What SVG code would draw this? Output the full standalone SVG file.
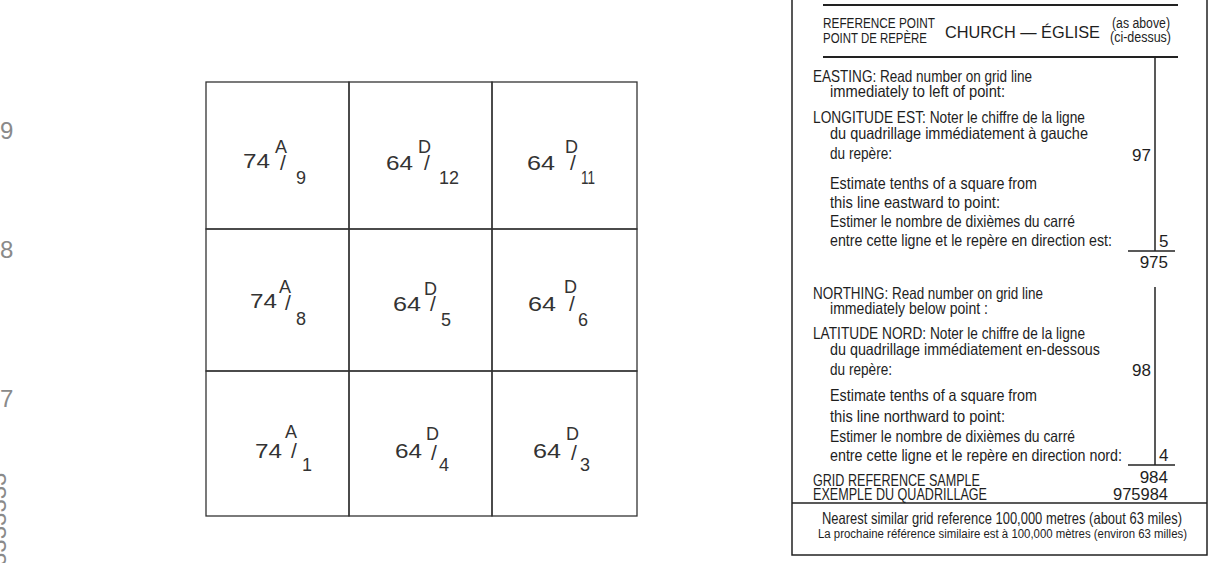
<svg xmlns="http://www.w3.org/2000/svg" width="1216" height="563" viewBox="0 0 1216 563">
<style>
.bg{fill:#ffffff}
.cell{fill:none;stroke:#333;stroke-width:1.3}
.lab{font-family:"Liberation Sans",Arial,sans-serif;fill:#333;font-size:20px}
.sup{font-family:"Liberation Sans",Arial,sans-serif;fill:#333;font-size:18px}
.sl{font-family:"Liberation Sans",Arial,sans-serif;fill:#333;font-size:21px}
.edge{font-family:"Liberation Sans",Arial,sans-serif;fill:#8a8a8a;font-size:24px}
.t{font-family:"Liberation Sans Narrow","Liberation Sans",Arial,sans-serif;fill:#1e1e1e;font-size:16.5px}
.h{font-family:"Liberation Sans Narrow","Liberation Sans",Arial,sans-serif;fill:#1e1e1e;font-size:15.5px}
.w{font-family:"Liberation Sans",Arial,sans-serif;fill:#1e1e1e;font-size:17px}
.n{font-family:"Liberation Sans",Arial,sans-serif;fill:#1e1e1e;font-size:17px}
.sm{font-family:"Liberation Sans Narrow","Liberation Sans",Arial,sans-serif;fill:#1e1e1e;font-size:12.5px}
.rule{stroke:#222;stroke-width:2;fill:none}
.ln{stroke:#222;stroke-width:1.5;fill:none}
</style>
<rect class="bg" x="0" y="0" width="1216" height="563"/>

<g id="edge-labels">
<text class="edge" x="0" y="139">9</text>
<text class="edge" x="0" y="258">8</text>
<text class="edge" x="0" y="407">7</text>
<text class="edge" font-size="20" fill="#9a9a9a" transform="translate(6,566) rotate(-90)">3333333</text>
</g>

<g id="grid">
<g id="cell-74A9">
<rect class="cell" x="206" y="82" width="143" height="147"/>
<text class="lab" x="243" y="168" textLength="27" lengthAdjust="spacingAndGlyphs">74</text>
<text class="sup" x="275" y="153">A</text>
<text class="sl" x="280" y="170">/</text>
<text class="sup" x="296" y="184">9</text>
</g>
<g id="cell-64D12">
<rect class="cell" x="349" y="82" width="143" height="147"/>
<text class="lab" x="386" y="170" textLength="27" lengthAdjust="spacingAndGlyphs">64</text>
<text class="sup" x="418" y="153">D</text>
<text class="sl" x="424" y="170">/</text>
<text class="sup" x="439" y="184" textLength="20" lengthAdjust="spacingAndGlyphs">12</text>
</g>
<g id="cell-64D11">
<rect class="cell" x="492" y="82" width="145" height="147"/>
<text class="lab" x="527" y="170" textLength="28" lengthAdjust="spacingAndGlyphs">64</text>
<text class="sup" x="565" y="153">D</text>
<text class="sl" x="570" y="170">/</text>
<text class="sup" x="581" y="184" textLength="14" lengthAdjust="spacingAndGlyphs">11</text>
</g>
<g id="cell-74A8">
<rect class="cell" x="206" y="229" width="143" height="142"/>
<text class="lab" x="250" y="308" textLength="27" lengthAdjust="spacingAndGlyphs">74</text>
<text class="sup" x="279" y="293">A</text>
<text class="sl" x="285" y="310">/</text>
<text class="sup" x="296" y="325">8</text>
</g>
<g id="cell-64D5">
<rect class="cell" x="349" y="229" width="143" height="142"/>
<text class="lab" x="393" y="311" textLength="28" lengthAdjust="spacingAndGlyphs">64</text>
<text class="sup" x="424" y="295">D</text>
<text class="sl" x="430" y="311">/</text>
<text class="sup" x="441" y="326">5</text>
</g>
<g id="cell-64D6">
<rect class="cell" x="492" y="229" width="145" height="142"/>
<text class="lab" x="528" y="311" textLength="28" lengthAdjust="spacingAndGlyphs">64</text>
<text class="sup" x="564" y="293">D</text>
<text class="sl" x="569" y="311">/</text>
<text class="sup" x="578" y="326">6</text>
</g>
<g id="cell-74A1">
<rect class="cell" x="206" y="371" width="143" height="145"/>
<text class="lab" x="255" y="458" textLength="27" lengthAdjust="spacingAndGlyphs">74</text>
<text class="sup" x="285" y="438">A</text>
<text class="sl" x="291" y="458">/</text>
<text class="sup" x="302" y="471">1</text>
</g>
<g id="cell-64D4">
<rect class="cell" x="349" y="371" width="143" height="145"/>
<text class="lab" x="395" y="458" textLength="27" lengthAdjust="spacingAndGlyphs">64</text>
<text class="sup" x="426" y="440">D</text>
<text class="sl" x="431" y="460">/</text>
<text class="sup" x="439" y="471">4</text>
</g>
<g id="cell-64D3">
<rect class="cell" x="492" y="371" width="145" height="145"/>
<text class="lab" x="533" y="458" textLength="28" lengthAdjust="spacingAndGlyphs">64</text>
<text class="sup" x="566" y="440">D</text>
<text class="sl" x="571" y="460">/</text>
<text class="sup" x="580" y="471">3</text>
</g>
</g>

<g id="panel">
<rect class="ln" x="792" y="-10" width="415" height="565"/>
<line class="rule" x1="823" y1="5" x2="1178" y2="5"/>
<line class="rule" x1="823" y1="57" x2="1178" y2="57"/>
<line class="ln" x1="792" y1="503" x2="1207" y2="503"/>

<g id="header">
<text class="h" x="823" y="28" textLength="112" lengthAdjust="spacingAndGlyphs">REFERENCE  POINT</text>
<text class="h" x="823" y="43" textLength="104" lengthAdjust="spacingAndGlyphs">POINT DE REPÈRE</text>
<text class="w" x="945" y="38" textLength="155" lengthAdjust="spacingAndGlyphs">CHURCH — ÉGLISE</text>
<text class="h" x="1112" y="28" textLength="58" lengthAdjust="spacingAndGlyphs">(as above)</text>
<text class="h" x="1110" y="42" textLength="61" lengthAdjust="spacingAndGlyphs">(ci-dessus)</text>
</g>

<g id="easting">
<text class="t" x="813" y="82" textLength="219" lengthAdjust="spacingAndGlyphs">EASTING: Read number on grid line</text>
<text class="t" x="830" y="97" textLength="175" lengthAdjust="spacingAndGlyphs">immediately to left of point:</text>
<text class="t" x="813" y="123" textLength="272" lengthAdjust="spacingAndGlyphs">LONGITUDE  EST: Noter le chiffre de la ligne</text>
<text class="t" x="830" y="139" textLength="258" lengthAdjust="spacingAndGlyphs">du quadrillage immédiatement à gauche</text>
<text class="t" x="830" y="159" textLength="62" lengthAdjust="spacingAndGlyphs">du repère:</text>
<text class="t" x="830" y="189" textLength="207" lengthAdjust="spacingAndGlyphs">Estimate tenths of a square from</text>
<text class="t" x="830" y="208" textLength="170" lengthAdjust="spacingAndGlyphs">this line eastward to point:</text>
<text class="t" x="830" y="227" textLength="245" lengthAdjust="spacingAndGlyphs">Estimer le nombre de dixièmes du carré</text>
<text class="t" x="830" y="246" textLength="282" lengthAdjust="spacingAndGlyphs">entre cette ligne et le repère en direction est:</text>
<line class="ln" x1="1155" y1="57" x2="1155" y2="251"/>
<line class="ln" x1="1128" y1="251" x2="1175" y2="251"/>
<text class="n" x="1151" y="161" text-anchor="end">97</text>
<text class="n" x="1159" y="247">5</text>
<text class="n" x="1168" y="268" text-anchor="end">975</text>
</g>

<g id="northing">
<text class="t" x="813" y="299" textLength="230" lengthAdjust="spacingAndGlyphs">NORTHING: Read number on grid line</text>
<text class="t" x="830" y="314" textLength="158" lengthAdjust="spacingAndGlyphs">immediately below point :</text>
<text class="t" x="813" y="339" textLength="272" lengthAdjust="spacingAndGlyphs">LATITUDE  NORD: Noter le chiffre de la ligne</text>
<text class="t" x="830" y="355" textLength="270" lengthAdjust="spacingAndGlyphs">du quadrillage immédiatement en-dessous</text>
<text class="t" x="830" y="375" textLength="62" lengthAdjust="spacingAndGlyphs">du repère:</text>
<text class="t" x="830" y="401" textLength="207" lengthAdjust="spacingAndGlyphs">Estimate tenths of a square from</text>
<text class="t" x="830" y="422" textLength="175" lengthAdjust="spacingAndGlyphs">this line northward to point:</text>
<text class="t" x="830" y="442" textLength="245" lengthAdjust="spacingAndGlyphs">Estimer le nombre de dixièmes du carré</text>
<text class="t" x="830" y="461" textLength="292" lengthAdjust="spacingAndGlyphs">entre cette ligne et le repère en direction nord:</text>
<line class="ln" x1="1155" y1="287" x2="1155" y2="465"/>
<line class="ln" x1="1128" y1="465" x2="1175" y2="465"/>
<text class="n" x="1151" y="376" text-anchor="end">98</text>
<text class="n" x="1159" y="461">4</text>
<text class="n" x="1168" y="483" text-anchor="end">984</text>
</g>

<g id="sample">
<text class="t" font-size="14.5" x="813" y="486" textLength="167" lengthAdjust="spacingAndGlyphs">GRID  REFERENCE  SAMPLE</text>
<text class="t" font-size="14.5" x="813" y="500" textLength="174" lengthAdjust="spacingAndGlyphs">EXEMPLE  DU  QUADRILLAGE</text>
<text class="n" x="1168" y="500" text-anchor="end" textLength="55" lengthAdjust="spacingAndGlyphs">975984</text>
</g>

<g id="footer">
<text class="t" x="822" y="524" textLength="360" lengthAdjust="spacingAndGlyphs">Nearest similar grid reference 100,000 metres (about 63 miles)</text>
<text class="sm" x="818" y="538" textLength="369" lengthAdjust="spacingAndGlyphs">La prochaine référence similaire est à 100,000 mètres (environ 63 milles)</text>
</g>
</g>

<g id="connectors"></g>
</svg>
